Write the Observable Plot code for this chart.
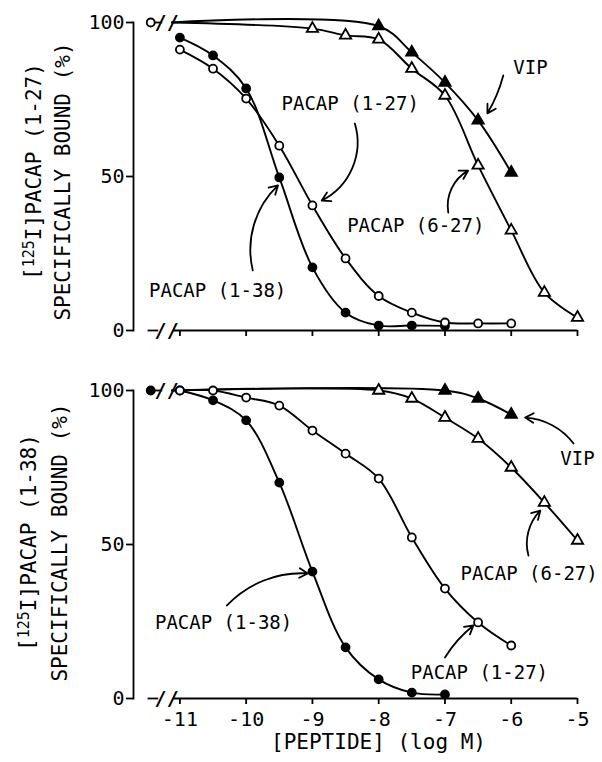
<!DOCTYPE html>
<html><head><meta charset="utf-8">
<script src="https://cdn.jsdelivr.net/npm/d3@7"></script>
<script src="https://cdn.jsdelivr.net/npm/@observablehq/plot@0.6"></script>
<style>
body{margin:0;background:#fff;width:602px;}
svg{display:block}
</style></head><body><div id="c"></div>
<script>
const FONT = "'DejaVu Sans Mono', monospace";
const ticksX = [-11, -10, -9, -8, -7, -6, -5];
const ticksY = [0, 50, 100];
const controlValue = 100;

// ---- Top panel: [125I]PACAP(1-27) binding ----
const topP138Conc = [-11, -10.5, -10, -9.5, -9, -8.5, -8, -7.5, -7];
const topP138Vals = [95.1, 89.3, 78.6, 49.7, 20.5, 5.8, 1.6, 1.6, 1.5];
const topP127Conc = [-11, -10.5, -10, -9.5, -9, -8.5, -8, -7.5, -7, -6.5, -6];
const topP127Vals = [91.2, 85, 75.3, 60, 40.6, 23.4, 11.2, 5.8, 2.6, 2.3, 2.3];
const topVIPConc = [-8, -7.5, -7, -6.5, -6];
const topVIPVals = [98.8, 90.3, 80.5, 68.2, 51.3];
const topP627Conc = [-9, -8.5, -8, -7.5, -7, -6.5, -6, -5.5, -5];
const topP627Vals = [98, 95.8, 94.5, 85, 76.3, 53.6, 32.5, 12.3, 4.2];

// ---- Bottom panel: [125I]PACAP(1-38) binding ----
const botP138Conc = [-11, -10.5, -10, -9.5, -9, -8.5, -8, -7.5, -7];
const botP138Vals = [100, 96.8, 90.3, 70.1, 41.2, 16.6, 6.2, 1.9, 1.3];
const botP127Conc = [-11, -10.5, -10, -9.5, -9, -8.5, -8, -7.5, -7, -6.5, -6];
const botP127Vals = [100, 100, 97.7, 95.1, 87, 79.5, 71.4, 52.3, 35.7, 24.7, 17.2];
const botVIPConc = [-7, -6.5, -6];
const botVIPVals = [100, 97.4, 92.2];
const botP627Conc = [-8, -7.5, -7, -6.5, -6, -5.5, -5];
const botP627Vals = [100, 97.4, 91.2, 84.4, 75, 63.6, 51.3];

// annotation labels
const labelNames = ["VIP", "PACAP (1-27)", "PACAP (6-27)", "PACAP (1-38)"];
const topLabelAt = [[-5.71, 85.1], [-8.43, 73.7], [-7.44, 34.1], [-10.43, 13.0]];
const topArrows = [[-6.12, 82.8, -6.36, 70.5, 8], [-8.36, 67.2, -8.86, 42.2, 40], [-6.95, 38.3, -6.65, 51.9, 35], [-9.90, 19.5, -9.52, 47.1, 30]];
const botLabelNames = ["VIP", "PACAP (6-27)", "PACAP (1-27)", "PACAP (1-38)"];
const botLabelAt = [[-5.0, 77.9], [-5.73, 40.6], [-6.48, 8.4], [-10.34, 24.4]];
const botArrows = [[-5.06, 82.8, -5.79, 91.2, -25], [-5.74, 46.4, -5.56, 61.0, 30], [-7.0, 13.3, -6.57, 23.7, 10], [-10.29, 30.2, -9.07, 40.6, 25]];

const controlX = -11.44, breakX = -11.2;

function series(name, conc, vals) { return conc.map((x, i) => ({name, x, y: vals[i]})); }

function panel({height, marginTop, marginBottom, sets, anchored, controlFilled, labels, labelAt, arrows, ligand, titleDx, titleDy, showX}) {
  const lineData = [];
  for (const s of sets) {
    const pts = series(s.name, s.conc, s.vals);
    if (anchored.includes(s.name)) lineData.push({name: s.name, x: breakX + 0.08, y: controlValue});
    lineData.push(...pts);
  }
  const marks = [
    Plot.frame({anchor: "left", strokeWidth: 1.8}),
    Plot.axisY({ticks: ticksY, tickSize: 7, tickPadding: 2, fontSize: 20, label: null, strokeWidth: 1.8}),
    Plot.axisX({ticks: ticksX, tickSize: 6, tickPadding: 7, fontSize: 20, label: null, strokeWidth: 1.8,
      tickFormat: showX ? (d => String(d)) : (() => "")}),
    Plot.ruleY([0], {x1: breakX + 0.1, x2: -5, strokeWidth: 1.8}),
    Plot.ruleY([0], {x1: controlX - 0.04, x2: breakX - 0.12, strokeWidth: 1.8}),
    Plot.ruleY([controlValue], {x1: controlX, x2: breakX - 0.06, strokeWidth: 1.8}),
    Plot.text([0, controlValue], {x: breakX, y: d => d, text: () => "//", fontSize: 20, fontFamily: FONT, fontWeight: "bold"}),
    Plot.line(lineData, {x: "x", y: "y", z: "name", curve: "catmull-rom", strokeWidth: 1.9}),
    Plot.dot([controlValue], {x: controlX, y: d => d, r: 4, fill: controlFilled ? "black" : "white", stroke: "black", strokeWidth: 1.8}),
  ];
  for (const s of sets) {
    marks.push(Plot.dot(series(s.name, s.conc, s.vals), {x: "x", y: "y", r: s.symbol === "triangle" ? 4.2 : 4, symbol: s.symbol,
      fill: s.filled ? "black" : "white", stroke: "black", strokeWidth: 1.8}));
  }
  marks.push(Plot.text(labels, {x: (d, i) => labelAt[i][0], y: (d, i) => labelAt[i][1], text: d => d,
    fontSize: 19, fontFamily: FONT, fill: "black"}));
  for (const a of arrows) {
    marks.push(Plot.arrow([a], {x1: d => d[0], y1: d => d[1], x2: d => d[2], y2: d => d[3], bend: a[4],
      headLength: 8, strokeWidth: 1.8, stroke: "black"}));
  }
  marks.push(Plot.text([ligand], {frameAnchor: "left", textAnchor: "middle", rotate: -90, dx: titleDx[0], dy: titleDy[0], fontSize: 21, fontFamily: FONT}));
  marks.push(Plot.text(["SPECIFICALLY BOUND (%)"], {frameAnchor: "left", textAnchor: "middle", rotate: -90, dx: titleDx[1], dy: titleDy[1], fontSize: 21, fontFamily: FONT}));
  if (showX) marks.push(Plot.text(["[PEPTIDE] (log M)"], {frameAnchor: "bottom", textAnchor: "middle", dx: 23, dy: 50, fontSize: 21, fontFamily: FONT}));
  const svg = Plot.plot({
    width: 602, height, marginTop, marginBottom, marginLeft: 133, marginRight: 25,
    x: {domain: [-11.7, -5]}, y: {domain: [0, 100]},
    style: {fontFamily: FONT, color: "black", background: "white", overflow: "visible"},
    marks
  });
  // superscript the isotope number in the ligand title
  for (const t of svg.querySelectorAll("text")) {
    if (t.textContent === ligand) {
      const m = ligand.match(/^\[(\d+)(.*)$/);
      t.textContent = "";
      const ns = "http://www.w3.org/2000/svg";
      const a = document.createElementNS(ns, "tspan"); a.textContent = "["; t.appendChild(a);
      const b = document.createElementNS(ns, "tspan"); b.textContent = m[1]; b.setAttribute("dy", "-0.35em"); b.setAttribute("font-size", "15"); t.appendChild(b);
      const c2 = document.createElementNS(ns, "tspan"); c2.textContent = m[2]; c2.setAttribute("dy", "0.35em"); t.appendChild(c2);
    }
  }
  return svg;
}

const c = document.getElementById("c");
c.append(panel({
  height: 360, marginTop: 22, marginBottom: 30,
  sets: [
    {name: "PACAP (1-38)", conc: topP138Conc, vals: topP138Vals, symbol: "circle", filled: true},
    {name: "PACAP (1-27)", conc: topP127Conc, vals: topP127Vals, symbol: "circle", filled: false},
    {name: "VIP", conc: topVIPConc, vals: topVIPVals, symbol: "triangle", filled: true},
    {name: "PACAP (6-27)", conc: topP627Conc, vals: topP627Vals, symbol: "triangle", filled: false}
  ],
  anchored: ["VIP", "PACAP (6-27)"], controlFilled: false,
  labels: labelNames, labelAt: topLabelAt, arrows: topArrows,
  ligand: "[125I]PACAP (1-27)", titleDx: [-101, -70], titleDy: [-5, 5], showX: false
}));
c.append(panel({
  height: 402, marginTop: 30, marginBottom: 64,
  sets: [
    {name: "PACAP (1-38)", conc: botP138Conc, vals: botP138Vals, symbol: "circle", filled: true},
    {name: "PACAP (1-27)", conc: botP127Conc, vals: botP127Vals, symbol: "circle", filled: false},
    {name: "VIP", conc: botVIPConc, vals: botVIPVals, symbol: "triangle", filled: true},
    {name: "PACAP (6-27)", conc: botP627Conc, vals: botP627Vals, symbol: "triangle", filled: false}
  ],
  anchored: ["VIP", "PACAP (6-27)"], controlFilled: true,
  labels: botLabelNames, labelAt: botLabelAt, arrows: botArrows,
  ligand: "[125I]PACAP (1-38)", titleDx: [-106, -73], titleDy: [-2, -2], showX: true
}));
</script></body></html>
